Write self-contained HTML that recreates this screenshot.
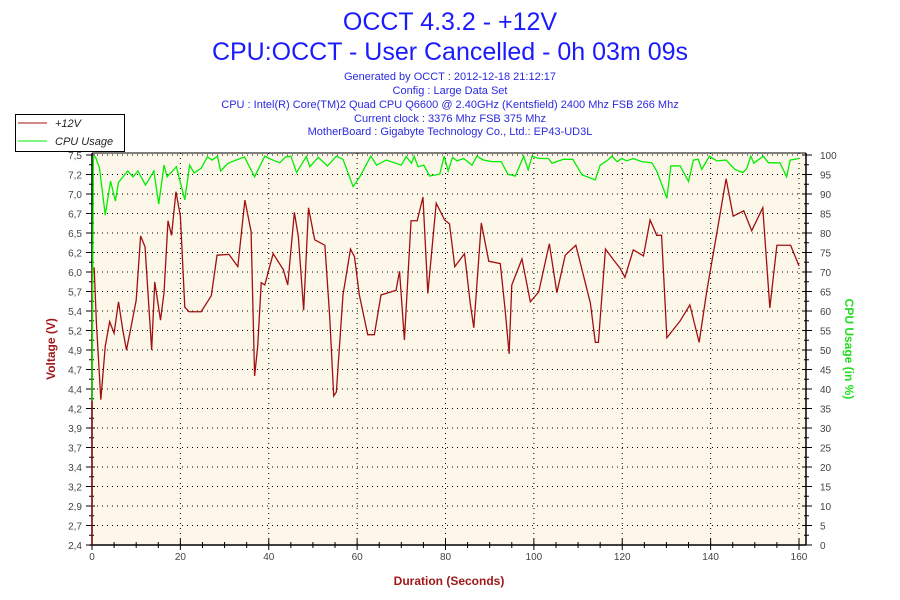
<!DOCTYPE html>
<html><head><meta charset="utf-8"><style>
body{margin:0;background:#fff;}
svg{display:block;font-family:"Liberation Sans",sans-serif;}
</style></head><body>
<svg id="c" width="900" height="600">
<text x="450" y="30" text-anchor="middle" font-size="25" fill="#1a1aff">OCCT 4.3.2 - +12V</text>
<text x="450" y="60" text-anchor="middle" font-size="25" fill="#1a1aff">CPU:OCCT - User Cancelled - 0h 03m 09s</text>
<g font-size="11" fill="#2a2ae0" text-anchor="middle">
<text x="450" y="80">Generated by OCCT : 2012-12-18 21:12:17</text>
<text x="450" y="94">Config : Large Data Set</text>
<text x="450" y="108">CPU : Intel(R) Core(TM)2 Quad CPU Q6600 @ 2.40GHz (Kentsfield) 2400 Mhz FSB 266 Mhz</text>
<text x="450" y="122">Current clock : 3376 Mhz FSB 375 Mhz</text>
<text x="450" y="135">MotherBoard : Gigabyte Technology Co., Ltd.: EP43-UD3L</text>
</g>
<rect x="92" y="153" width="714" height="392" fill="#fdf7ea"/>
<g id="grid"></g><g id="axes"></g><g id="series"></g>
<g>
<rect x="15.5" y="114.5" width="109" height="37" fill="#fff" stroke="#000"/>
<line x1="18" y1="123" x2="47" y2="123" stroke="#a01010"/>
<text x="55" y="127" font-size="11" font-style="italic" fill="#222">+12V</text>
<line x1="18" y1="141" x2="47" y2="141" stroke="#00ee00"/>
<text x="55" y="145" font-size="11" font-style="italic" fill="#222">CPU Usage</text>
</g>
<text x="55" y="349" transform="rotate(-90 55 349)" text-anchor="middle" font-size="12" font-weight="bold" fill="#a01818">Voltage (V)</text>
<text x="845" y="349" transform="rotate(90 845 349)" text-anchor="middle" font-size="12" font-weight="bold" fill="#22dd22">CPU Usage (in %)</text>
<text x="449" y="585" text-anchor="middle" font-size="12" font-weight="bold" fill="#a01818">Duration (Seconds)</text>
</svg>
<script>
const voltLabels=["2,4","2,7","2,9","3,2","3,4","3,7","3,9","4,2","4,4","4,7","4,9","5,2","5,4","5,7","6,0","6,2","6,5","6,7","7,0","7,2","7,5"];
const cpuTicks=[0,5,10,15,20,25,30,35,40,45,50,55,60,65,70,75,80,85,90,95,100];
const xTicks=[0,20,40,60,80,100,120,140,160];
const voltT=[0,0.5,1,2,3,4,5,6,7,7.8,9,10,11,12,13,13.5,14.2,15.5,16.3,17.2,18,19,20,21,22,24.7,27,28.3,31,33,34.6,36,36.8,37.5,38.3,39.1,41,43.3,44.3,45.8,46.7,47.9,49,50.4,52.7,53.8,54.7,55.3,56.8,58.5,59.4,60.5,62.4,63.9,65.4,68.8,69.6,70.7,72.2,73.6,74.9,76,77.9,79.8,80.9,82.1,84.3,85.6,86.4,88.1,89.8,92.4,93.5,94.4,95,97.3,99.2,101.1,103.5,105.2,107.1,109.5,111.2,112.8,113.9,114.6,116.2,118,119.5,120.6,122.5,124.8,126.3,127.8,128.9,130.1,133.1,135.3,137.4,139.1,141.7,143.5,145.1,147.5,149.3,151.8,153.4,155,158.1,160];
const voltV=[6.02,6.02,5.3,4.3,5.0,5.32,5.17,5.58,5.2,4.95,5.3,5.6,6.44,6.3,5.4,4.95,5.84,5.34,5.7,6.64,6.45,7.02,6.7,5.51,5.45,5.45,5.66,6.19,6.2,6.04,6.91,6.5,4.61,5.0,5.83,5.8,6.21,6.0,5.8,6.75,6.43,5.47,6.81,6.39,6.32,5.38,4.35,4.4,5.67,6.27,6.17,5.67,5.15,5.15,5.67,5.73,5.98,5.08,6.64,6.64,6.95,5.69,6.87,6.65,6.6,6.04,6.21,5.56,5.24,6.61,6.11,6.08,5.47,4.9,5.8,6.14,5.58,5.71,6.34,5.7,6.19,6.32,5.93,5.56,5.05,5.05,6.27,6.13,6.02,5.9,6.26,6.18,6.65,6.45,6.45,5.11,5.33,5.54,5.05,5.71,6.58,7.19,6.7,6.77,6.51,6.81,5.5,6.32,6.32,6.05];
const cpuT=[0,0.3,0.8,1.7,3.0,4.2,5.3,6.0,8.1,9.3,10.4,12.1,14.0,15.1,16.3,17.0,19.1,21.0,22.1,23.1,24.7,26.1,27.2,28.4,29.1,30.8,34.5,36.8,39.1,40.9,42.5,43.8,45.0,46.3,48.5,49.3,51.2,53.3,55.3,56.8,59.1,60.6,63.1,64.4,66.6,70.0,71.1,72.3,72.9,73.8,75.1,76.4,78.7,79.7,80.6,81.6,82.6,84.1,86.0,87.1,88.6,90.5,92.6,94.1,95.8,97.7,98.7,99.6,101.1,103.3,104.1,106.7,108.8,110.9,113.9,115.0,116.5,117.7,118.8,119.9,121.0,122.5,124.4,126.7,127.8,129.2,130.1,131.0,133.1,135.0,136.1,137.2,138.0,139.7,141.4,143.5,145.5,147.3,148.2,149.1,149.8,151.9,153.1,155.7,157.2,158.0,160];
const cpuV=[37,99.5,99.5,96.6,84.6,93.3,88.2,93,95.9,94.4,95.9,92.3,95.9,87.4,97.4,94.4,97,88.5,97.4,95.4,96.6,99.5,98.7,99.7,95.9,97.9,99.5,94.4,99.7,98.7,98,99.5,99.7,95.5,99.6,97,99.4,97.2,99.7,98.9,91.9,94.4,99.7,97.4,98.7,97.4,99.6,97.9,99.7,97,97.4,94.6,95.1,99.7,95.9,99.4,98.5,99.1,97.4,99.7,98.7,98.3,98.3,95.1,94.6,99.7,96.2,99.7,99.1,99.1,97.9,98.9,98.9,94.9,93.6,97.4,98.5,99.7,98.3,99.1,98.5,99.1,98.3,98,95.9,91.7,88.9,97.2,97.2,93.2,98.7,98.9,96.3,99.7,98.5,98.7,96.3,95.5,96.6,99.7,97.9,99.7,98,98,94.4,98.7,99.1];
const NS='http://www.w3.org/2000/svg';
const L=92,R=806,T=155,B=545;
const xs=t=>L+t*(799-92)/160;
const yv=v=>B-(v-2.4)/5.1*(B-T);
const yc=c=>B-c/100*(B-T);
function mk(tag,attrs,parent){const e=document.createElementNS(NS,tag);for(const k in attrs)e.setAttribute(k,attrs[k]);parent.appendChild(e);return e;}
const grid=document.getElementById('grid'),axes=document.getElementById('axes'),ser=document.getElementById('series');
for(let i=1;i<voltLabels.length;i++){const y=B-i*(B-T)/20;
 const g=mk('line',{x1:L,x2:R,y1:y,y2:y,stroke:'#000','stroke-dasharray':'1 4','stroke-width':1},grid);
 
 }
xTicks.forEach(t=>{if(t===0)return;const x=xs(t);
 const g=mk('line',{x1:x,x2:x,y1:T-2,y2:B,stroke:'#000','stroke-dasharray':'1 4'},grid);
 
 });
mk('line',{x1:L,x2:R,y1:T-2,y2:T-2,stroke:'#000'},axes);
mk('line',{x1:L,x2:L,y1:T-2,y2:B,stroke:'#000','stroke-width':1.5},axes);
mk('line',{x1:R,x2:R,y1:T-2,y2:B,stroke:'#000','stroke-width':1.5},axes);
mk('line',{x1:L-2,x2:R,y1:B,y2:B,stroke:'#000','stroke-width':1.5},axes);
voltLabels.forEach((lab,i)=>{const y=B-i*(B-T)/20;
 mk('line',{x1:L-6,x2:L+3,y1:y,y2:y,stroke:'#000'},axes);
 if(i<20)mk('line',{x1:L-3,x2:L+2,y1:y-9.75,y2:y-9.75,stroke:'#000'},axes);
 const t=mk('text',{x:L-10,y:y+4,'text-anchor':'end','font-size':10,fill:'#444'},axes);t.textContent=lab;
 
 });
cpuTicks.forEach(c=>{const y=yc(c);
 mk('line',{x1:R-3,x2:R+6,y1:y,y2:y,stroke:'#000'},axes);
 if(c<100)mk('line',{x1:R-2,x2:R+3,y1:y-9.75,y2:y-9.75,stroke:'#000'},axes);
 const t=mk('text',{x:R+14,y:y+4,'font-size':10,fill:'#444'},axes);t.textContent=c;
 
 });
for(let s=0;s<=160;s+=5){const x=xs(s);mk('line',{x1:x,x2:x,y1:B-(s%20?3:6),y2:B+(s%20?3:5),stroke:'#000'},axes);}
xTicks.forEach(s=>{const t=mk('text',{x:xs(s),y:B+15,'text-anchor':'middle','font-size':10,fill:'#444'},axes);t.textContent=s;
 
 });
const vl=mk('polyline',{points:'92,545 '+voltT.map((t,i)=>xs(t)+','+yv(voltV[i])).join(' '),fill:'none',stroke:'#a01010','stroke-width':1.3},ser);


const cl=mk('polyline',{points:cpuT.map((t,i)=>xs(t)+','+yc(cpuV[i])).join(' '),fill:'none',stroke:'#00ee00','stroke-width':1.3},ser);


</script>
</body></html>
